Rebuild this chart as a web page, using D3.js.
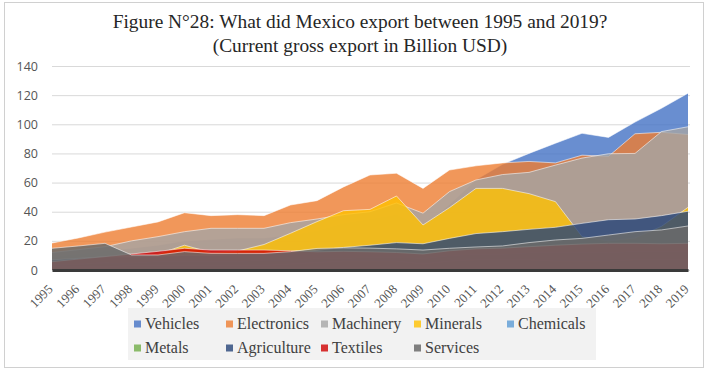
<!DOCTYPE html>
<html>
<head>
<meta charset="utf-8">
<script src="https://cdn.jsdelivr.net/npm/d3@7/dist/d3.min.js"></script>
<style>
  html, body { margin: 0; padding: 0; background: #fff; }
  svg { display: block; }
</style>
</head>
<body>
<svg id="chart" width="709" height="370"></svg>
<script>
// Mexico gross exports by product group, billion USD (current)
const years = d3.range(1995, 2020).map(String);

const vehicles    = [9, 11, 13, 15, 17, 20, 21, 22, 22, 24, 27, 32, 35, 38, 30, 45, 62, 72.5, 80, 87, 93.8, 91, 101.5, 111, 121.3];
const electronics = [18.5, 22, 26, 29.5, 33, 39.3, 37.3, 38, 37.3, 44.6, 47.6, 57, 65.2, 66.4, 56, 68.6, 71.5, 73.5, 74.5, 73.5, 78.8, 78, 93.5, 94.5, 93];
const machinery   = [12, 14, 16, 20, 22.9, 26.3, 28.6, 28.6, 28.6, 32.5, 35, 38, 40, 46, 39, 53.8, 61.8, 65.5, 67, 72, 76.8, 79.8, 80, 95, 98.3];
const minerals    = [3, 4, 5, 8, 11, 17, 12, 13, 17.5, 25.2, 33.2, 40.7, 41.6, 50.8, 30.9, 42.8, 56, 56, 52.4, 46.9, 23, 20, 22, 30, 43];
const chemicals   = [4, 4, 5, 5, 6, 6, 6, 6, 7, 7, 8, 8, 9, 9, 8, 10, 11, 11, 12, 12, 12, 12, 13, 13, 13];
const metals      = [2, 2, 2, 3, 3, 3, 3, 3, 3, 4, 5, 6, 6, 6, 4, 6, 7, 7, 7, 6, 6, 6, 7, 7, 7];
const agriculture = [7, 8, 9, 9, 9.5, 10, 10, 10.5, 11, 12, 13.5, 15.5, 17, 18.8, 18, 21.7, 25, 26.3, 27.9, 29.3, 32, 34.5, 35, 37.3, 40.3];
const textiles    = [5.7, 7.5, 9.2, 11, 12.8, 14.9, 13.7, 13.7, 13.7, 13.2, 12.5, 12.8, 12.5, 12, 11, 13.2, 14.5, 15, 16, 17, 17.8, 18.3, 18.3, 18, 18.3];
const services    = [14.9, 16.5, 18.3, 10.3, 10.3, 12.6, 11.4, 11.4, 11.4, 12.6, 14.8, 15.2, 15, 14.5, 13.7, 14.9, 15.8, 16.5, 18.8, 20.6, 21.7, 24, 26.3, 27.5, 30.2];

const seriesNames = ["Vehicles", "Electronics", "Machinery", "Minerals", "Chemicals", "Metals", "Agriculture", "Textiles", "Services"];
const seriesData  = [vehicles, electronics, machinery, minerals, chemicals, metals, agriculture, textiles, services];
const seriesColors = ["#4472C4", "#ED7D31", "#A5A5A5", "#FFC000", "#5B9BD5", "#70AD47", "#264478", "#D00000", "#6B6B6B"];
const seriesOpacity = [0.8, 0.8, 0.8, 0.8, 0.8, 0.8, 0.8, 0.8, 0.85];

const yTicks = [0, 20, 40, 60, 80, 100, 120, 140];
const titleLines = ["Figure N°28: What did Mexico export between 1995 and 2019?", "(Current gross export in Billion USD)"];

const svg = d3.select("#chart");

// outer frame
svg.append("rect")
  .attr("x", 4.5).attr("y", 2.5).attr("width", 699).attr("height", 365)
  .attr("fill", "#fff").attr("stroke", "#d0d0d0").attr("stroke-width", 1);

const plot = { left: 52, right: 688, top: 66, bottom: 270 };

const x = d3.scalePoint().domain(years).range([plot.left, plot.right]);
const y = d3.scaleLinear().domain([0, 140]).range([plot.bottom, plot.top]);

// title
svg.append("g").selectAll("text").data(titleLines).join("text")
  .attr("x", 360).attr("y", (d, i) => 28 + i * 24)
  .attr("text-anchor", "middle")
  .attr("font-family", "'Liberation Serif', 'Times New Roman', serif")
  .attr("font-size", 19.4)
  .attr("fill", "#262626")
  .text(d => d);

// horizontal gridlines + y labels
const yAxis = d3.axisLeft(y).tickValues(yTicks).tickSize(-(plot.right - plot.left + 2)).tickPadding(14);
const gy = svg.append("g").attr("transform", `translate(${plot.left},0)`).call(yAxis);
gy.select(".domain").remove();
gy.selectAll(".tick line").attr("stroke", "#d9d9d9").attr("stroke-width", 1);
gy.selectAll(".tick text")
  .attr("font-family", "'Open Sans', 'Liberation Sans', sans-serif")
  .attr("font-size", 12.5)
  .attr("fill", "#555");

// overlapping (non-stacked) areas, first series at the back
const area = d3.area()
  .x((d, i) => x(years[i]))
  .y0(y(0))
  .y1(d => y(d));
const line = d3.line()
  .x((d, i) => x(years[i]))
  .y(d => y(d));

const gAreas = svg.append("g");
seriesData.forEach((vals, k) => {
  gAreas.append("path")
    .datum(vals)
    .attr("d", area)
    .attr("fill", seriesColors[k])
    .attr("fill-opacity", seriesOpacity[k]);
  gAreas.append("path")
    .datum(vals)
    .attr("d", line)
    .attr("fill", "none")
    .attr("stroke", "#fff")
    .attr("stroke-opacity", 0.55)
    .attr("stroke-width", 1);
});

// category axis baseline + rotated year labels
const xAxis = d3.axisBottom(x).tickSize(0).tickPadding(0);
const gx = svg.append("g").attr("transform", `translate(0,${plot.bottom})`).call(xAxis);
gx.select(".domain").attr("stroke", "#3a3a3a").attr("stroke-width", 3);
gx.selectAll(".tick text")
  .attr("font-family", "'Liberation Serif', 'Times New Roman', serif")
  .attr("font-size", 13)
  .attr("fill", "#555")
  .attr("text-anchor", "end")
  .attr("dy", 0)
  .attr("transform", "translate(1,20) rotate(-45)");

// legend
const legend = svg.append("g");
legend.append("rect")
  .attr("x", 128).attr("y", 308).attr("width", 468).attr("height", 52)
  .attr("fill", "#f2f2f2");
const colX = [145, 237, 332, 425, 518];
const rowY = [329, 353];
const legendPos = [[0, 0], [1, 0], [2, 0], [3, 0], [4, 0], [0, 1], [1, 1], [2, 1], [3, 1]];
seriesNames.forEach((name, k) => {
  const [c, r] = legendPos[k];
  const g = legend.append("g").attr("transform", `translate(${colX[c]},${rowY[r]})`);
  g.append("rect").attr("x", -11).attr("y", -8.5).attr("width", 7).attr("height", 7)
    .attr("fill", seriesColors[k]).attr("fill-opacity", seriesOpacity[k]);
  g.append("text")
    .attr("font-family", "'Liberation Serif', 'Times New Roman', serif")
    .attr("font-size", 16)
    .attr("fill", "#404040")
    .text(name);
});
</script>
</body>
</html>
